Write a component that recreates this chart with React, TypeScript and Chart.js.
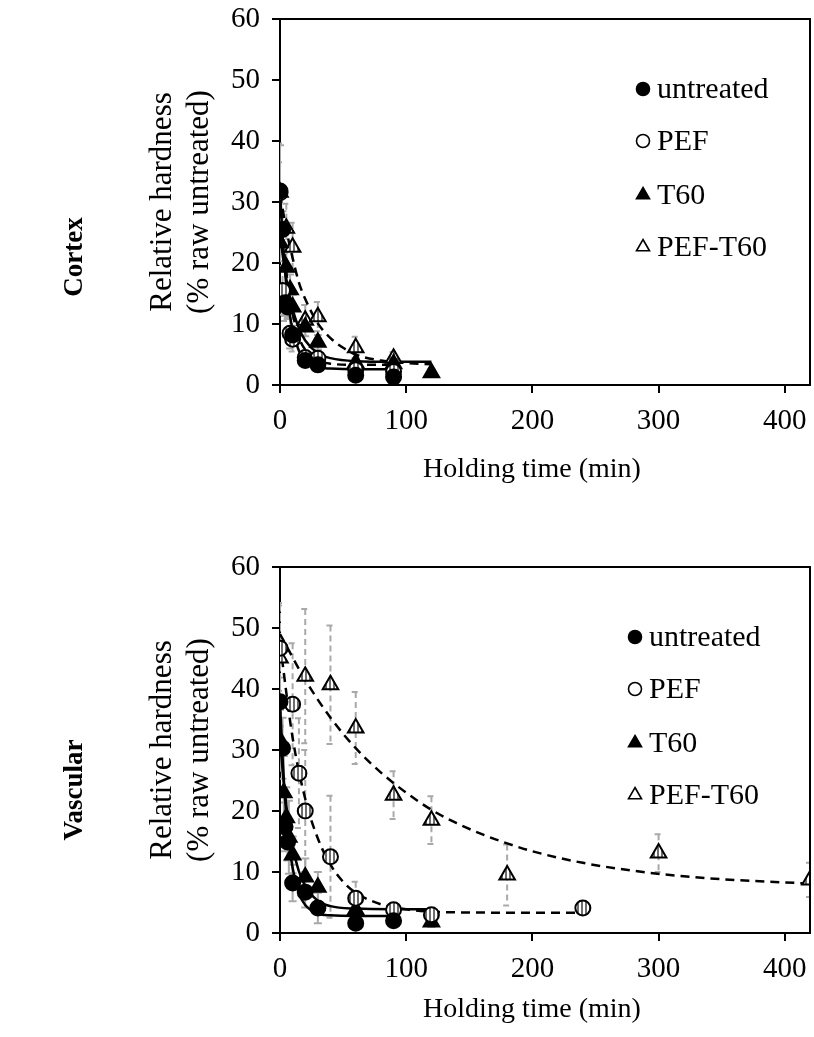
import React, { useEffect, useRef } from "react";
import { Chart, registerables } from "chart.js";

Chart.register(...registerables);

const FONT = "'Liberation Serif', 'Times New Roman', Times, serif";

// ---------- axes / labels ----------
const xTickValues = [0, 100, 200, 300, 400];
const yTickValues = [0, 10, 20, 30, 40, 50, 60];
const legendLabels = ["untreated", "PEF", "T60", "PEF-T60"];
const xAxisTitle = "Holding time (min)";
const yAxisTitle = ["Relative hardness", "(% raw untreated)"];

// ---------- Cortex: measured points ----------
const cortexUntreatedTime = [0, 2, 4, 6, 10, 20, 30, 60, 90];
const cortexUntreatedHardness = [31.8, 25.5, 13.3, 12.8, 8.2, 4.0, 3.3, 1.6, 1.3];
const cortexUntreatedError = [7.5, 3, 2, 2, 1.5, 0.8, 0.6, 0.4, 0.4];

const cortexPefTime = [0, 2, 4, 8, 10, 20, 30, 60, 90];
const cortexPefHardness = [31.5, 15.5, 13.5, 8.5, 7.5, 4.5, 4.4, 2.5, 2.2];
const cortexPefError = [5, 4, 3, 2.5, 2, 1, 1, 0.7, 0.5];

const cortexT60Time = [0, 5, 8, 10, 20, 30, 60, 90, 120];
const cortexT60Hardness = [23.3, 19.3, 15.6, 12.8, 9.5, 7.0, 3.6, 3.5, 2.0];
const cortexT60Error = [3, 3, 2.5, 2, 1.5, 1.2, 0.8, 0.6, 0.6];

const cortexPefT60Time = [0, 5, 10, 20, 30, 60, 90];
const cortexPefT60Hardness = [31.6, 25.7, 22.6, 10.6, 11.2, 6.1, 4.4];
const cortexPefT60Error = [8, 4, 4, 2.5, 2.4, 1.8, 1];

// ---------- Cortex: fitted curves ----------
const cortexFitUntreatedTime = [0, 2, 4, 6, 8, 10, 15, 20, 30, 40, 60, 90];
const cortexFitUntreatedValue = [32, 24.3, 18.6, 14.4, 11.2, 9.2, 5.6, 4.1, 2.9, 2.7, 2.6, 2.6];
const cortexFitPefTime = [0, 2, 4, 6, 8, 10, 15, 20, 30, 40, 60, 90];
const cortexFitPefValue = [31.3, 25.3, 20.6, 16.8, 13.8, 11.7, 7.8, 5.8, 4.1, 3.5, 3.3, 3.3];
const cortexFitT60Time = [0, 2, 4, 6, 8, 10, 15, 20, 30, 40, 60, 90, 120];
const cortexFitT60Value = [25, 21.5, 18.6, 16.2, 14.1, 12.4, 9.3, 7.3, 5.2, 4.4, 3.9, 3.8, 3.8];
const cortexFitPefT60Time = [0, 5, 10, 15, 20, 30, 40, 50, 60, 80, 100, 120];
const cortexFitPefT60Value = [31.3, 25.5, 20.8, 16.8, 14.1, 10.1, 7.7, 6.1, 5.0, 4.0, 3.6, 3.4];

// ---------- Vascular: measured points ----------
const vascUntreatedTime = [0, 2, 4, 6, 10, 20, 30, 60, 90];
const vascUntreatedHardness = [37.9, 30.3, 17.4, 14.9, 8.2, 6.7, 4.1, 1.6, 2.0];
const vascUntreatedError = [4, 5, 4, 3, 3, 2.5, 2.5, 0.8, 0.8];

const vascPefTime = [0, 10, 15, 20, 40, 60, 90, 120, 240];
const vascPefHardness = [46.7, 37.5, 26.2, 20, 12.5, 5.7, 3.8, 3, 4.1];
const vascPefError = [7, 10, 9, 10, 10, 2.7, 1, 1, 0.8];

const vascT60Time = [0, 3, 5, 7, 10, 20, 30, 60, 120];
const vascT60Hardness = [31.6, 23, 18.9, 15.7, 12.8, 9.2, 7.5, 3.8, 1.8];
const vascT60Error = [5, 6, 5, 6, 3, 3, 2.5, 1, 0.8];

const vascPefT60Time = [0, 20, 40, 60, 90, 120, 180, 300, 420];
const vascPefT60Hardness = [45.1, 42.1, 40.7, 33.6, 22.6, 18.5, 9.5, 13.1, 8.7];
const vascPefT60Error = [9, 11, 9.7, 5.9, 3.9, 3.9, 5, 3.1, 2.8];

// ---------- Vascular: fitted curves ----------
const vascFitUntreatedTime = [0, 2, 4, 6, 8, 10, 15, 20, 30, 40, 60, 90];
const vascFitUntreatedValue = [38, 28.9, 22.1, 17.1, 13.4, 10.7, 6.5, 4.6, 3.2, 2.9, 2.8, 2.8];
const vascFitPefTime = [0, 10, 20, 30, 40, 50, 60, 80, 100, 120, 160, 200, 240];
const vascFitPefValue = [47.5, 32, 22, 15.5, 11.2, 8.4, 6.6, 4.7, 3.9, 3.5, 3.35, 3.3, 3.3];
const vascFitT60Time = [0, 2, 4, 6, 8, 10, 15, 20, 30, 40, 60, 90, 120];
const vascFitT60Value = [32, 26.8, 22.7, 19.3, 16.5, 14.2, 10.1, 7.7, 5.3, 4.4, 4.0, 3.9, 3.9];
const vascFitPefT60Time = [0, 20, 40, 60, 80, 100, 120, 140, 160, 180, 200, 240, 280, 320, 360, 420];
const vascFitPefT60Value = [49, 41.5, 35.3, 30.3, 26.3, 23, 20.2, 18, 16.2, 14.7, 13.4, 11.5, 10.2, 9.3, 8.7, 8.1];

type Series = { t: number[]; v: number[]; e?: number[] };

const pts = (t: number[], v: number[]) => t.map((x, i) => ({ x, y: v[i] }));

function makeStripe(ctx: CanvasRenderingContext2D) {
  const c = document.createElement("canvas");
  c.width = 4;
  c.height = 4;
  const g = c.getContext("2d")!;
  g.fillStyle = "#ffffff";
  g.fillRect(0, 0, 4, 4);
  g.fillStyle = "#6e6e6e";
  g.fillRect(1, 0, 2, 4);
  return ctx.createPattern(c, "repeat");
}

type PanelProps = {
  top: number;
  sideLabel: string;
  sideLabelY: number;
  points: Series[];
  fits: Series[];
  legendX: number;
  titleY: number;
};

function Panel(props: PanelProps) {
  const ref = useRef<HTMLCanvasElement | null>(null);
  useEffect(() => {
    const canvas = ref.current!;
    const ctx = canvas.getContext("2d")!;
    const stripe = makeStripe(ctx);
    const markerStyles = [
      { style: "circle", bg: "#000", r: 7.5 },
      { style: "circle", bg: stripe, r: 7.5 },
      { style: "triangle", bg: "#000", r: 9 },
      { style: "triangle", bg: stripe, r: 9 },
    ];
    const dashed = [false, true, false, true];

    const datasets: any[] = [];
    props.fits.forEach((s, i) => {
      datasets.push({
        type: "line",
        data: pts(s.t, s.v),
        borderColor: "#000",
        borderWidth: 2.5,
        borderDash: dashed[i] ? [9, 6] : [],
        pointRadius: 0,
        cubicInterpolationMode: "monotone",
        fill: false,
        order: 2,
      });
    });
    props.points.forEach((s, i) => {
      const m = markerStyles[i];
      datasets.push({
        type: "scatter",
        data: pts(s.t, s.v),
        errors: s.e,
        errorDash: dashed[i],
        pointStyle: m.style,
        pointRadius: m.r,
        pointBackgroundColor: m.bg,
        pointBorderColor: "#000",
        pointBorderWidth: 2,
        showLine: false,
        order: 1,
      });
    });

    const errorBars = {
      id: "errorBars",
      beforeDatasetsDraw(chart: any) {
        const { ctx: c, chartArea: a, scales } = chart;
        const x = scales.x;
        const y = scales.y;
        c.save();
        c.beginPath();
        c.rect(a.left, a.top, a.right - a.left, a.bottom - a.top);
        c.clip();
        c.strokeStyle = "#a9a9a9";
        c.lineWidth = 2;
        chart.data.datasets.forEach((ds: any) => {
          if (!ds.errors) return;
          c.setLineDash(ds.errorDash ? [6, 4] : []);
          ds.data.forEach((p: any, i: number) => {
            const e = ds.errors[i];
            const px = x.getPixelForValue(p.x);
            const t = y.getPixelForValue(p.y + e);
            const b = y.getPixelForValue(Math.max(0, p.y - e));
            c.beginPath();
            c.moveTo(px, t);
            c.lineTo(px, b);
            c.moveTo(px - 4, t);
            c.lineTo(px + 4, t);
            c.moveTo(px - 4, b);
            c.lineTo(px + 4, b);
            c.stroke();
          });
        });
        c.restore();
      },
    };

    const frame = {
      id: "frame",
      afterDraw(chart: any) {
        const { ctx: c, chartArea: a } = chart;
        c.save();
        c.strokeStyle = "#000";
        c.lineWidth = 2;
        c.beginPath();
        c.moveTo(a.left, a.top);
        c.lineTo(a.right, a.top);
        c.lineTo(a.right, a.bottom);
        c.stroke();

        // x axis title
        c.fillStyle = "#000";
        c.font = `28px ${FONT}`;
        c.textAlign = "center";
        c.textBaseline = "middle";
        c.fillText(xAxisTitle, 532, props.titleY);

        // side label
        c.save();
        c.translate(75, props.sideLabelY);
        c.rotate(-Math.PI / 2);
        c.fillStyle = "#000";
        c.font = `bold 27px ${FONT}`;
        c.textAlign = "center";
        c.textBaseline = "middle";
        c.fillText(props.sideLabel, 0, 0);
        c.restore();

        // legend
        const rows = [89, 141, 195, 247];
        const mx = props.legendX;
        rows.forEach((ry, i) => {
          c.setLineDash([]);
          c.lineWidth = 1.6;
          c.strokeStyle = "#000";
          c.fillStyle = i === 0 || i === 2 ? "#000" : "#fff";
          c.beginPath();
          if (i < 2) {
            c.arc(mx, ry, 6.5, 0, Math.PI * 2);
          } else {
            const r = 7.5;
            c.moveTo(mx, ry - r);
            c.lineTo(mx + r * 0.866, ry + r * 0.5);
            c.lineTo(mx - r * 0.866, ry + r * 0.5);
            c.closePath();
          }
          c.fill();
          c.stroke();
          c.fillStyle = "#000";
          c.font = `30px ${FONT}`;
          c.textAlign = "left";
          c.textBaseline = "middle";
          c.fillText(legendLabels[i], mx + 14, ry + 1);
        });
        c.restore();
      },
    };

    const chart = new Chart(canvas, {
      type: "scatter",
      data: { datasets },
      options: {
        animation: false,
        responsive: false,
        layout: { autoPadding: false, padding: { left: 0, right: 4, top: 19, bottom: 0 } },
        plugins: { legend: { display: false }, tooltip: { enabled: false } },
        scales: {
          x: {
            type: "linear",
            min: 0,
            max: 420,
            afterBuildTicks: (s: any) => {
              s.ticks = xTickValues.map((v) => ({ value: v }));
            },
            afterFit: (s: any) => {
              s.height = 104;
              s.paddingLeft = 0;
              s.paddingRight = 0;
            },
            border: { display: true, color: "#000", width: 2 },
            grid: { drawOnChartArea: false, drawTicks: true, tickLength: 8, color: "#000", lineWidth: 2 },
            ticks: { color: "#000", font: { family: FONT, size: 29 }, padding: 11, maxRotation: 0, autoSkip: false },
            title: { display: false },
          },
          y: {
            type: "linear",
            min: 0,
            max: 60,
            afterBuildTicks: (s: any) => {
              s.ticks = yTickValues.map((v) => ({ value: v }));
            },
            afterFit: (s: any) => {
              s.width = 280;
              s.paddingTop = 0;
              s.paddingBottom = 0;
            },
            border: { display: true, color: "#000", width: 2 },
            grid: { drawOnChartArea: false, drawTicks: true, tickLength: 8, color: "#000", lineWidth: 2 },
            ticks: { color: "#000", font: { family: FONT, size: 29 }, padding: 12 },
            title: {
              display: true,
              text: yAxisTitle,
              color: "#000",
              font: { family: FONT, size: 31, lineHeight: 1.2 },
              padding: { top: 144, bottom: 0 },
            },
          },
        },
      } as any,
      plugins: [errorBars, frame],
    });
    return () => chart.destroy();
  }, []);
  return (
    <canvas
      ref={ref}
      width={814}
      height={489}
      style={{ position: "absolute", left: 0, top: props.top, width: 814, height: 489, display: "block" }}
    />
  );
}

export default function App() {
  const cortexPoints: Series[] = [
    { t: cortexUntreatedTime, v: cortexUntreatedHardness, e: cortexUntreatedError },
    { t: cortexPefTime, v: cortexPefHardness, e: cortexPefError },
    { t: cortexT60Time, v: cortexT60Hardness, e: cortexT60Error },
    { t: cortexPefT60Time, v: cortexPefT60Hardness, e: cortexPefT60Error },
  ];
  const cortexFits: Series[] = [
    { t: cortexFitUntreatedTime, v: cortexFitUntreatedValue },
    { t: cortexFitPefTime, v: cortexFitPefValue },
    { t: cortexFitT60Time, v: cortexFitT60Value },
    { t: cortexFitPefT60Time, v: cortexFitPefT60Value },
  ];
  const vascPoints: Series[] = [
    { t: vascUntreatedTime, v: vascUntreatedHardness, e: vascUntreatedError },
    { t: vascPefTime, v: vascPefHardness, e: vascPefError },
    { t: vascT60Time, v: vascT60Hardness, e: vascT60Error },
    { t: vascPefT60Time, v: vascPefT60Hardness, e: vascPefT60Error },
  ];
  const vascFits: Series[] = [
    { t: vascFitUntreatedTime, v: vascFitUntreatedValue },
    { t: vascFitPefTime, v: vascFitPefValue },
    { t: vascFitT60Time, v: vascFitT60Value },
    { t: vascFitPefT60Time, v: vascFitPefT60Value },
  ];
  return (
    <div style={{ position: "absolute", left: 0, top: 0, width: 814, height: 1037, background: "#fff", overflow: "hidden" }}>
      <Panel top={0} sideLabel="Cortex" sideLabelY={257} points={cortexPoints} fits={cortexFits} legendX={643} titleY={470} />
      <Panel top={548} sideLabel="Vascular" sideLabelY={242} points={vascPoints} fits={vascFits} legendX={635} titleY={462} />
    </div>
  );
}
